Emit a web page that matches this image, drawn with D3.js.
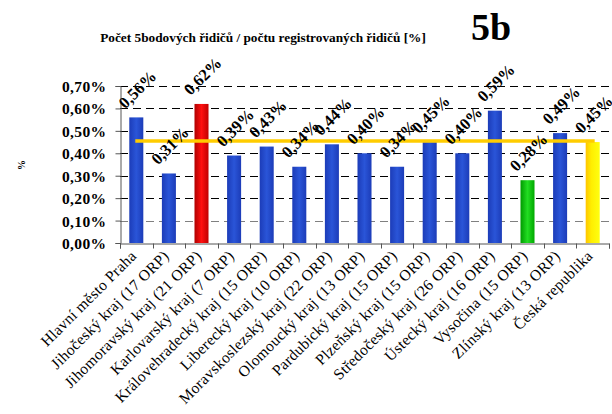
<!DOCTYPE html>
<html>
<head>
<meta charset="utf-8">
<script src="https://cdn.jsdelivr.net/npm/d3@7"></script>
<style>
  html, body { margin: 0; padding: 0; background: #fff; }
</style>
</head>
<body>
<svg id="chart" width="612" height="414"></svg>
<script>
// Regions of the Czech Republic and their share of 5-point drivers
const categories = [
  "Hlavní město Praha",
  "Jihočeský kraj (17 ORP)",
  "Jihomoravský kraj (21 ORP)",
  "Karlovarský kraj (7 ORP)",
  "Královehradecký kraj (15 ORP)",
  "Liberecký kraj (10 ORP)",
  "Moravskoslezský kraj (22 ORP)",
  "Olomoucký kraj (13 ORP)",
  "Pardubický kraj (15 ORP)",
  "Plzeňský kraj (15 ORP)",
  "Středočeský kraj (26 ORP)",
  "Ústecký kraj (16 ORP)",
  "Vysočina (15 ORP)",
  "Zlínský kraj (13 ORP)",
  "Česká republika"
];
const values = [0.56, 0.31, 0.62, 0.39, 0.43, 0.34, 0.44, 0.40, 0.34, 0.45, 0.40, 0.59, 0.28, 0.49, 0.45];
const barKinds = ["blue", "blue", "red", "blue", "blue", "blue", "blue", "blue", "blue", "blue", "blue", "blue", "green", "blue", "yellow"];
const nationalAverage = 0.45;
const yTicks = [0, 0.1, 0.2, 0.3, 0.4, 0.5, 0.6, 0.7];

const FONT = '"Liberation Serif", "Times New Roman", serif';
const svg = d3.select("#chart");
const plot = { left: 120, right: 609, top: 86, bottom: 243 };

const x = d3.scaleBand().domain(categories).range([plot.left, plot.right]).paddingInner(0.57).paddingOuter(0.285);
const xBand = d3.scaleBand().domain(categories).range([plot.left, plot.right]);
const y = d3.scaleLinear().domain([0, 0.7]).range([plot.bottom, plot.top]);
const fmt = v => v.toFixed(2).replace(".", ",") + "%";

// Fills
const defs = svg.append("defs");
function grad(id, stops) {
  const g = defs.append("linearGradient").attr("id", id).attr("x1", "0").attr("x2", "1").attr("y1", "0").attr("y2", "0");
  stops.forEach(([o, c]) => g.append("stop").attr("offset", o).attr("stop-color", c));
}
grad("g-blue", [[0, "#1c3cb8"], [0.5, "#2a55d8"], [1, "#1c3cb8"]]);
grad("g-red", [[0, "#b00000"], [0.5, "#ff1010"], [1, "#c00000"]]);
grad("g-green", [[0, "#009a00"], [0.5, "#22dd22"], [1, "#00a800"]]);
grad("g-yellow", [[0, "#ffc400"], [0.4, "#ffee00"], [1, "#ffff10"]]);

// Gridlines
svg.append("g").selectAll("line").data(yTicks.filter(d => d > 0)).join("line")
  .attr("x1", plot.left).attr("x2", plot.right)
  .attr("y1", d => Math.round(y(d)) + 0.5).attr("y2", d => Math.round(y(d)) + 0.5)
  .attr("stroke", d => d === 0.1 ? "#808080" : "#000")
  .attr("stroke-width", 1.2)
  .attr("stroke-dasharray", "8,5");

// Y axis
const yAxis = d3.axisLeft(y).tickValues(yTicks).tickSize(5).tickFormat(fmt);
const ya = svg.append("g").attr("transform", `translate(${plot.left + 0.5},0)`).call(yAxis);
ya.select(".domain").attr("stroke", "#555");
ya.selectAll(".tick line").attr("stroke", "#555");
ya.selectAll(".tick text")
  .attr("x", -14)
  .attr("dy", "0.35em")
  .style("font-weight", "bold")
  .style("font-size", "15.5px")
  .style("letter-spacing", "0.4px")
  .attr("fill", "#000");

// Bars
svg.append("g").selectAll("rect").data(values).join("rect")
  .attr("x", (d, i) => x(categories[i]))
  .attr("width", x.bandwidth())
  .attr("y", d => y(d))
  .attr("height", d => y(0) - y(d))
  .attr("fill", (d, i) => `url(#g-${barKinds[i]})`);

// National average line
svg.append("line")
  .attr("x1", x(categories[0]) + 6)
  .attr("x2", x(categories[categories.length - 1]) + 9)
  .attr("y1", y(nationalAverage) - 1).attr("y2", y(nationalAverage) - 1)
  .attr("stroke", "#ffcc00").attr("stroke-width", 3.5);

// X axis
const xAxis = d3.axisBottom(xBand).tickSize(5).tickFormat("");
const xa = svg.append("g").attr("transform", `translate(0,${plot.bottom + 0.5})`).call(xAxis);
xa.select(".domain").attr("stroke", "#555");
xa.selectAll(".tick").remove();
xa.selectAll(".bound").data(d3.range(categories.length + 1)).join("line")
  .attr("x1", i => Math.round(plot.left + i * xBand.step()) + 0.5)
  .attr("x2", i => Math.round(plot.left + i * xBand.step()) + 0.5)
  .attr("y1", 0).attr("y2", 5).attr("stroke", "#555");

// Category labels
svg.append("g").selectAll("text").data(categories).join("text")
  .attr("transform", d => `translate(${xBand(d) + xBand.bandwidth() / 2 + 1},${plot.bottom + 14}) rotate(-45)`)
  .attr("text-anchor", "end")
  .style("font-size", "15.5px")
  .style("letter-spacing", "0.3px")
  .text(d => d);

// Value labels
svg.append("g").selectAll("text").data(values).join("text")
  .attr("transform", (d, i) => `translate(${x(categories[i]) + x.bandwidth() / 2 + 1},${y(d) - 28}) rotate(-45)`)
  .attr("text-anchor", "middle")
  .attr("dy", "0.35em")
  .style("font-size", "16.5px")
  .style("font-weight", "bold")
  .text(d => fmt(d));

// Titles
svg.append("text").attr("x", 263).attr("y", 42).attr("text-anchor", "middle")
  .style("font-size", "13.3px").style("font-weight", "bold")
  .text("Počet 5bodových řidičů / počtu registrovaných řidičů [%]");
svg.append("text").attr("x", 491).attr("y", 40).attr("text-anchor", "middle")
  .style("font-size", "38px").style("font-weight", "bold")
  .text("5b");
svg.append("text").attr("transform", "translate(25,165) rotate(-90)").attr("text-anchor", "middle")
  .style("font-size", "10px").style("font-weight", "bold")
  .text("%");

// Serif face on every label
svg.selectAll("text").style("font-family", FONT);
</script>
</body>
</html>
